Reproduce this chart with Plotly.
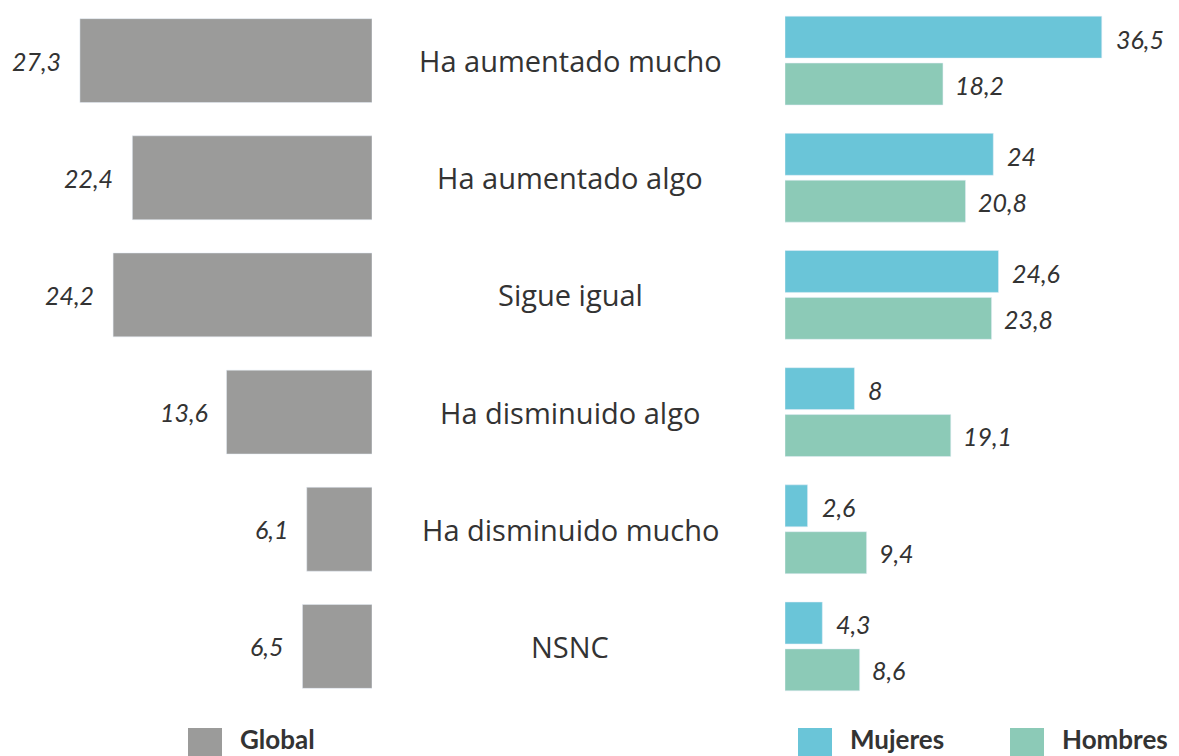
import plotly.graph_objects as go

# Datos del gráfico
categorias = ["Ha aumentado mucho", "Ha aumentado algo", "Sigue igual",
              "Ha disminuido algo", "Ha disminuido mucho", "NSNC"]
global_vals = [27.3, 22.4, 24.2, 13.6, 6.1, 6.5]
mujeres_vals = [36.5, 24.0, 24.6, 8.0, 2.6, 4.3]
hombres_vals = [18.2, 20.8, 23.8, 19.1, 9.4, 8.6]

GRIS = "#9b9b9a"
AZUL = "#6ac5d8"
VERDE = "#8ccab7"
TEXTO = "#333333"
FUENTE = "Lato, 'Noto Sans', sans-serif"
FUENTE_CAT = "'Open Sans', 'Noto Sans', sans-serif"


def fmt(v):
    # formato español: coma decimal, sin ",0"
    if float(v).is_integer():
        return str(int(v))
    return f"{v:.1f}".replace(".", ",")


fig = go.Figure()

fig.add_trace(go.Bar(
    y=categorias, x=global_vals, orientation="h", name="Global",
    marker_color=GRIS, width=0.716, xaxis="x", yaxis="y",
    showlegend=False, hoverinfo="x+y"
))
fig.add_trace(go.Bar(
    y=categorias, x=mujeres_vals, orientation="h", name="Mujeres",
    marker_color=AZUL, xaxis="x2", yaxis="y2",
    showlegend=False, hoverinfo="x+y"
))
fig.add_trace(go.Bar(
    y=categorias, x=hombres_vals, orientation="h", name="Hombres",
    marker_color=VERDE, xaxis="x2", yaxis="y2",
    showlegend=False, hoverinfo="x+y"
))

annotations = []
# etiquetas de valor
for cat, v in zip(categorias, global_vals):
    annotations.append(dict(
        x=v, y=cat, xref="x", yref="y", text=fmt(v), showarrow=False,
        xanchor="right", xshift=-17,
        font=dict(family=FUENTE, size=25, color=TEXTO, style="italic")
    ))
for cat, v in zip(categorias, mujeres_vals):
    annotations.append(dict(
        x=v, y=cat, xref="x2", yref="y2", text=fmt(v), showarrow=False,
        xanchor="left", xshift=12, yshift=22,
        font=dict(family=FUENTE, size=25, color=TEXTO, style="italic")
    ))
for cat, v in zip(categorias, hombres_vals):
    annotations.append(dict(
        x=v, y=cat, xref="x2", yref="y2", text=fmt(v), showarrow=False,
        xanchor="left", xshift=10, yshift=-24,
        font=dict(family=FUENTE, size=25, color=TEXTO, style="italic")
    ))
# categorías en el centro
for cat in categorias:
    annotations.append(dict(
        x=0.4835, y=cat, xref="paper", yref="y", text=cat, showarrow=False,
        xanchor="center", yanchor="middle",
        font=dict(family=FUENTE_CAT, size=29, color=TEXTO)
    ))

# leyenda manual (píxeles -> coordenadas paper)
def py(p):
    return (705 - p) / 703


leyenda = [("Global", GRIS, 188), ("Mujeres", AZUL, 798), ("Hombres", VERDE, 1010)]
shapes = []
for nombre, color, px0 in leyenda:
    shapes.append(dict(
        type="rect", xref="paper", yref="paper",
        x0=px0 / 1179, x1=(px0 + 34) / 1179,
        y0=py(762), y1=py(728),
        fillcolor=color, line_width=0, layer="above"
    ))
    annotations.append(dict(
        x=(px0 + 50) / 1179, y=py(739), xref="paper", yref="paper",
        text=f"<b>{nombre}</b>", showarrow=False, xanchor="left", yanchor="middle",
        font=dict(family=FUENTE, size=26, color=TEXTO)
    ))

fig.update_layout(
    width=1179, height=756,
    margin=dict(l=0, r=0, t=2, b=51),
    paper_bgcolor="white", plot_bgcolor="white",
    barmode="group", bargap=0.2, bargroupgap=0.106,
    xaxis=dict(domain=[0, 372 / 1179], range=[34.77, 0], visible=False, fixedrange=True),
    xaxis2=dict(domain=[785 / 1179, 1], range=[0, 45.4], visible=False, fixedrange=True),
    yaxis=dict(autorange="reversed", visible=False, anchor="x"),
    yaxis2=dict(matches="y", autorange="reversed", visible=False, anchor="x2"),
    annotations=annotations,
    shapes=shapes,
    font=dict(family=FUENTE, color=TEXTO),
)

fig.write_html("out.html", config={"displayModeBar": False},
               post_script="document.body.style.margin='0';")
